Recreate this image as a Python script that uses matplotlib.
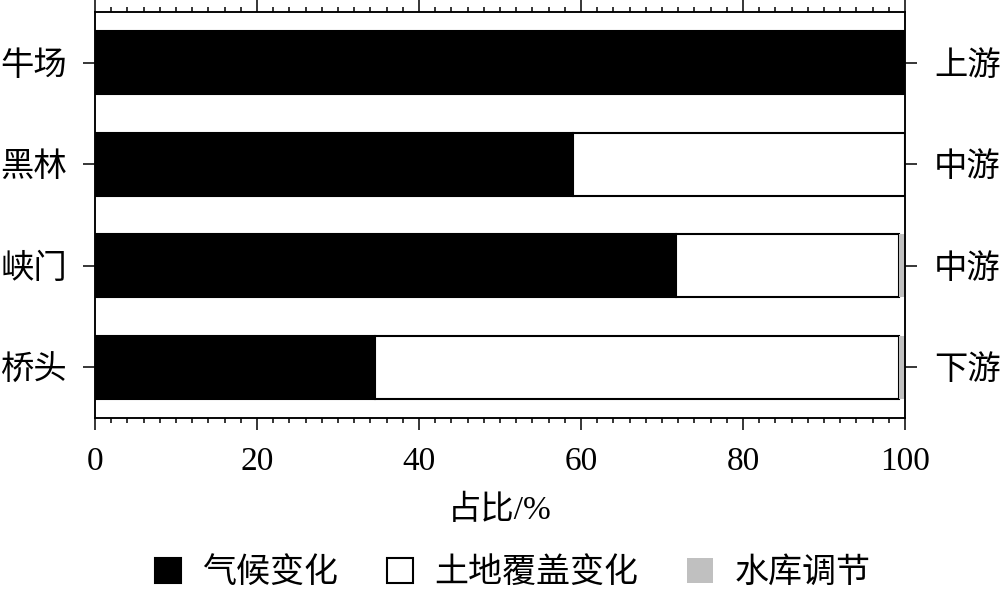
import matplotlib
matplotlib.use('Agg')
import matplotlib.pyplot as plt
from matplotlib.ticker import MultipleLocator
from matplotlib.patches import Patch

plt.rcParams['font.family'] = ['Liberation Serif', 'Noto Sans CJK SC']
plt.rcParams['font.size'] = 24

sites = ['牛场', '黑林', '峡门', '桥头']
reaches = ['上游', '中游', '中游', '下游']
climate = [100.0, 59.0, 71.7, 34.6]
landcover = [0.0, 41.0, 27.6, 64.7]
reservoir = [0.0, 0.0, 0.7, 0.7]
labels = ['气候变化', '土地覆盖变化', '水库调节']

fig = plt.figure(figsize=(10, 5.91), dpi=100)
ax = fig.add_axes([0.095, 0.2927, 0.81, 0.687])

ypos = list(range(len(sites)))
h = 0.62
lw = 1.5
ax.barh(ypos, climate, height=h, color='black', edgecolor='black', linewidth=lw)
ax.barh(ypos, landcover, height=h, left=climate, color='white', edgecolor='black', linewidth=lw)
left2 = [c + l for c, l in zip(climate, landcover)]
ax.barh(ypos, reservoir, height=h, left=left2, color='#c0c0c0', edgecolor='none')

ax.set_xlim(0, 100)
ax.set_ylim(3.5, -0.5)
ax.set_yticks(ypos)
ax.set_yticklabels(sites)
ax.set_xticks(range(0, 101, 20))
ax.xaxis.set_minor_locator(MultipleLocator(2))
ax.tick_params(axis='x', which='major', top=True, direction='out', length=8.5, width=1.1, pad=12)
ax.tick_params(axis='x', which='minor', top=True, direction='out', length=3.8, width=1.1)
ax.tick_params(axis='y', direction='out', length=8.5, width=1.1, pad=11.5)
for s in ax.spines.values():
    s.set_linewidth(1.1)
ax.set_xlabel('占比/%', labelpad=13)

ax2 = ax.twinx()
ax2.set_ylim(ax.get_ylim())
ax2.set_yticks(ypos)
ax2.set_yticklabels(reaches)
ax2.tick_params(axis='y', direction='out', length=8.5, width=1.1, pad=12.5)
for s in ax2.spines.values():
    s.set_linewidth(1.1)

handles = [Patch(facecolor='black', edgecolor='black', linewidth=lw),
           Patch(facecolor='white', edgecolor='black', linewidth=lw),
           Patch(facecolor='#c0c0c0', edgecolor='none')]
fig.legend(handles, labels, loc='center', bbox_to_anchor=(0.5125, 0.03), ncol=3,
           frameon=False, fontsize=24.5, handlelength=0.76, handleheight=0.76,
           handletextpad=0.62, columnspacing=1.45, borderpad=0.1)

fig.savefig('out.png', dpi=100)
